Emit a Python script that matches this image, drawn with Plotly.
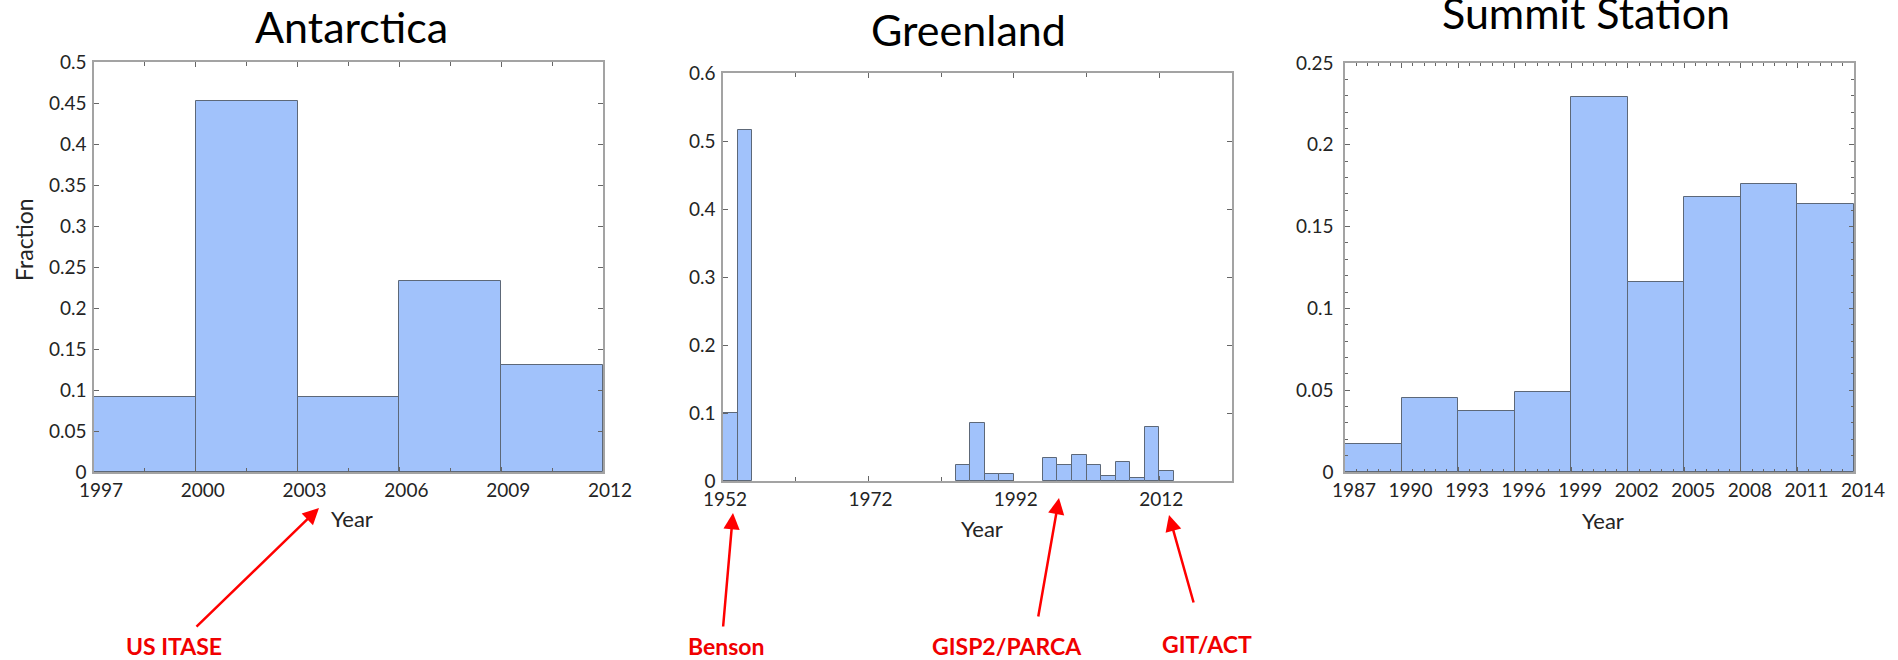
"""Ice core sampling years

Three histograms of the fraction of samples per year bin
for Antarctica, Greenland and Summit Station
"""

import plotly.graph_objects as go

W, H = 1898, 660

# Antarctica: 3-year bins starting at these years
antarctica_bins = [1997, 2000, 2003, 2006, 2009]
antarctica_frac = [0.092, 0.453, 0.092, 0.233, 0.130]
antarctica_xticks = [1997, 2000, 2003, 2006, 2009, 2012]
antarctica_yticks = [0, 0.05, 0.1, 0.15, 0.2, 0.25, 0.3, 0.35, 0.4, 0.45, 0.5]
antarctica_ylabels = ["0", "0.05", "0.1", "0.15", "0.2", "0.25", "0.3", "0.35", "0.4", "0.45", "0.5"]

# Greenland: 2-year bins
greenland_bins = [1952, 1954, 1984, 1986, 1988, 1990, 1996, 1998, 2000, 2002, 2004, 2006, 2008, 2010, 2012]
greenland_frac = [0.100, 0.516, 0.023, 0.085, 0.011, 0.011, 0.034, 0.023, 0.038, 0.023, 0.008, 0.028, 0.005, 0.079, 0.014]
greenland_xticks = [1952, 1972, 1992, 2012]
greenland_yticks = [0, 0.1, 0.2, 0.3, 0.4, 0.5, 0.6]
greenland_ylabels = ["0", "0.1", "0.2", "0.3", "0.4", "0.5", "0.6"]

# Summit Station: 3-year bins
summit_bins = [1987, 1990, 1993, 1996, 1999, 2002, 2005, 2008, 2011]
summit_frac = [0.017, 0.045, 0.037, 0.049, 0.229, 0.116, 0.168, 0.176, 0.164]
summit_xticks = [1987, 1990, 1993, 1996, 1999, 2002, 2005, 2008, 2011, 2014]
summit_yticks = [0, 0.05, 0.1, 0.15, 0.2, 0.25]
summit_ylabels = ["0", "0.05", "0.1", "0.15", "0.2", "0.25"]

titles = ["Antarctica", "Greenland", "Summit Station"]
labels = ["US ITASE", "Benson", "GISP2/PARCA", "GIT/ACT"]

BAR_FILL = "#a1c2fb"
BAR_EDGE = "#5d6878"
TEXT = "#242424"


def px(x):
    return x / W


def py(y):
    return 1 - y / H


fig = go.Figure()

# Bars start at the bin edge (offset=0) and span the bin width
fig.add_trace(go.Bar(
    x=antarctica_bins, y=antarctica_frac, width=[3] * len(antarctica_bins), offset=0,
    marker=dict(color=BAR_FILL, line=dict(color=BAR_EDGE, width=1)),
    xaxis="x", yaxis="y", showlegend=False))
fig.add_trace(go.Bar(
    x=greenland_bins, y=greenland_frac, width=[2] * len(greenland_bins), offset=0,
    marker=dict(color=BAR_FILL, line=dict(color=BAR_EDGE, width=1)),
    xaxis="x2", yaxis="y2", showlegend=False))
fig.add_trace(go.Bar(
    x=summit_bins, y=summit_frac, width=[3] * len(summit_bins), offset=0,
    marker=dict(color=BAR_FILL, line=dict(color=BAR_EDGE, width=1)),
    xaxis="x3", yaxis="y3", showlegend=False))

# Common axis look: grey box, ticks inside and mirrored
axis_style = dict(showline=True, linecolor="#a3a3a3", linewidth=1.5, mirror="ticks",
                  ticks="inside", ticklen=5, tickwidth=1, tickcolor="#666666",
                  showgrid=False, zeroline=False, fixedrange=True, automargin=False,
                  tickfont=dict(family="Lato", size=19, color=TEXT))

fig.update_layout(
    template="none",
    xaxis=dict(axis_style, domain=[px(94), px(603)], anchor="y", range=[1997, 2012],
               tickvals=antarctica_xticks, ticklabelshift=7,
               minor=dict(ticks="inside", ticklen=4, dtick=1.5, tick0=1997, tickcolor="#666666")),
    yaxis=dict(axis_style, domain=[py(472), py(62)], anchor="x", range=[0, 0.5],
               tickvals=antarctica_yticks, ticktext=antarctica_ylabels, ticklabelstandoff=2),
    xaxis2=dict(axis_style, domain=[px(723), px(1232)], anchor="y2", range=[1952, 2022],
                tickvals=greenland_xticks, ticklabelshift=2,
                minor=dict(ticks="inside", ticklen=4, dtick=10, tick0=1952, tickcolor="#666666")),
    yaxis2=dict(axis_style, domain=[py(481), py(73)], anchor="x2", range=[0, 0.6],
                tickvals=greenland_yticks, ticktext=greenland_ylabels, ticklabelstandoff=2),
    xaxis3=dict(axis_style, domain=[px(1345), px(1854)], anchor="y3", range=[1987, 2014],
                tickvals=summit_xticks, ticklabelshift=9,
                minor=dict(ticks="inside", ticklen=3, dtick=0.6, tick0=1987, tickcolor="#666666")),
    yaxis3=dict(axis_style, domain=[py(472), py(63)], anchor="x3", range=[0, 0.25],
                tickvals=summit_yticks, ticktext=summit_ylabels, ticklabelstandoff=6,
                minor=dict(ticks="inside", ticklen=3, dtick=0.01, tick0=0, tickcolor="#666666")),
    width=W, height=H,
    margin=dict(l=0, r=0, t=0, b=0, pad=0, autoexpand=False),
    paper_bgcolor="white", plot_bgcolor="white",
    bargap=0,
)

annotations = []

# Panel titles
for text, x, y in zip(titles, [351, 968, 1586], [27, 30, 13]):
    annotations.append(dict(text=text, x=px(x), y=py(y), xref="paper", yref="paper",
                            showarrow=False, xanchor="center", yanchor="middle",
                            font=dict(family="Lato", size=43, color="black")))

# Axis labels
for x, y in [(352, 518), (982, 528), (1603, 520)]:
    annotations.append(dict(text="Year", x=px(x), y=py(y), xref="paper", yref="paper",
                            showarrow=False, xanchor="center", yanchor="middle",
                            font=dict(family="Lato", size=22, color=TEXT)))
annotations.append(dict(text="Fraction", x=px(24), y=py(240), xref="paper", yref="paper",
                        showarrow=False, textangle=-90, xanchor="center", yanchor="middle",
                        font=dict(family="Lato", size=23, color=TEXT)))

# Red callouts: label position, arrow tail and arrow head (pixels)
callouts = [
    ((174, 646), (195, 628), (319, 508)),
    ((726, 646), (723, 628), (733, 513)),
    ((1007, 646), (1038, 618), (1059, 498)),
    ((1207, 644), (1194, 604), (1169, 515)),
]
for text, (lab, tail, head) in zip(labels, callouts):
    annotations.append(dict(text="<b>%s</b>" % text, x=px(lab[0]), y=py(lab[1]),
                            xref="paper", yref="paper", showarrow=False,
                            xanchor="center", yanchor="middle",
                            font=dict(family="Lato", size=23, color="#f00000")))
    annotations.append(dict(text="", x=px(head[0]), y=py(head[1]), xref="paper", yref="paper",
                            showarrow=True, ax=tail[0] - head[0], ay=tail[1] - head[1],
                            arrowhead=2, arrowsize=1.3, arrowwidth=2.5, arrowcolor="#ff0000",
                            standoff=0, startstandoff=0))

fig.update_layout(annotations=annotations)

# The page body has a default 8px margin; drop it so the figure sits at the corner
fig.write_html("out.html", config={"displayModeBar": False},
               post_script="document.body.style.margin='0px';")
